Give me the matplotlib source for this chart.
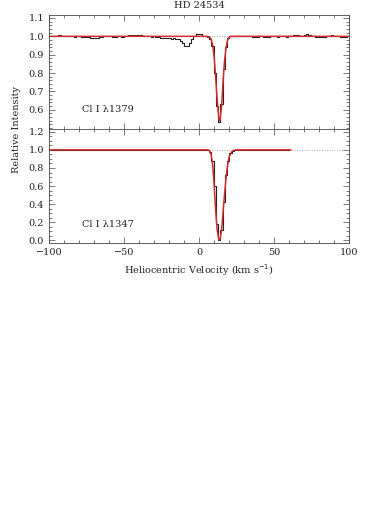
import matplotlib.pyplot as plt
import numpy as np
from matplotlib.ticker import MultipleLocator

# velocity grid of the spectra (km/s)
top_vel = np.arange(133) * 1.5 - 99.0
bot_vel = np.arange(107) * 1.5 - 99.0

# Cl I 1379 observed intensity
top_flux = [
    1.000, 1.002, 1.003, 1.004, 1.005, 1.003, 1.002, 1.004, 1.003, 1.001,
    1.000, 0.999, 1.001, 1.000, 0.998, 0.997, 0.999, 0.996, 0.993, 0.990,
    0.989, 0.993, 0.997, 0.999, 1.002, 1.004, 1.003, 1.001, 0.999, 0.998,
    1.000, 1.001, 0.999, 1.002, 1.004, 1.005, 1.006, 1.008, 1.007, 1.006,
    1.007, 1.004, 1.002, 1.001, 1.000, 0.999, 1.000, 0.998, 0.995, 0.991,
    0.989, 0.991, 0.993, 0.990, 0.988, 0.989, 0.987, 0.983, 0.975, 0.962,
    0.950, 0.945, 0.962, 0.985, 1.002, 1.012, 1.015, 1.010, 1.003, 1.000,
    0.997, 0.988, 0.950, 0.800, 0.620, 0.535, 0.630, 0.820, 0.940, 0.990,
    1.000, 1.002, 1.003, 1.001, 1.002, 1.004, 1.003, 1.001, 1.002, 1.000,
    0.998, 0.997, 0.999, 1.001, 1.000, 0.998, 0.997, 0.999, 1.001, 1.002,
    1.000, 0.999, 1.001, 1.002, 1.000, 0.999, 1.001, 1.003, 1.005, 1.007,
    1.006, 1.004, 1.003, 1.007, 1.010, 1.006, 1.002, 1.000, 0.998, 0.997,
    0.995, 0.996, 0.999, 1.002, 1.004, 1.005, 1.003, 1.001, 1.000, 0.999,
    0.998, 0.999, 1.000,
]

# Cl I 1347 observed intensity
bot_flux = [
    1.000, 1.003, 1.002, 1.004, 1.001, 1.000, 1.002, 1.003, 1.001, 0.999,
    1.000, 1.002, 1.000, 0.998, 0.999, 1.001, 1.000, 0.999, 0.997, 0.998,
    1.000, 1.001, 0.999, 0.998, 1.000, 1.002, 1.001, 1.000, 0.999, 1.001,
    1.002, 1.000, 0.999, 1.000, 1.002, 1.003, 1.002, 1.001, 1.000, 1.001,
    1.002, 1.000, 0.999, 1.000, 1.001, 1.000, 0.998, 0.999, 1.001, 1.002,
    1.000, 0.999, 1.000, 1.002, 1.003, 1.001, 1.000, 0.999, 1.000, 1.001,
    1.000, 0.999, 1.000, 1.001, 1.000, 0.999, 1.000, 1.000, 0.998, 0.997,
    0.995, 0.975, 0.880, 0.600, 0.180, 0.010, 0.120, 0.420, 0.720, 0.880,
    0.960, 0.990, 1.000, 1.002, 1.003, 1.004, 1.003, 1.002, 1.001, 1.000,
    1.000, 0.999, 1.000, 1.001, 1.000, 0.999, 1.000, 1.001, 1.000, 0.999,
    1.000, 1.001, 1.000, 0.999, 1.000, 1.001, 1.000,
]

# fitted profiles
top_model_vel = [-100, 5, 7, 8, 9, 10, 11, 12, 13, 13.5, 14, 15, 16, 17, 18, 19, 20, 21, 100]
top_model = [1.0, 1.0, 0.997, 0.985, 0.955, 0.89, 0.78, 0.66, 0.565, 0.54, 0.545,
             0.62, 0.76, 0.87, 0.94, 0.98, 0.995, 1.0, 1.0]
bot_model_vel = [-100, 6, 7, 8, 9, 10, 11, 12, 13, 13.5, 14, 15, 16, 17, 18, 19, 20, 21, 22, 23, 25, 61]
bot_model = [1.0, 1.0, 0.99, 0.95, 0.84, 0.62, 0.34, 0.12, 0.02, 0.005, 0.015,
             0.12, 0.32, 0.52, 0.70, 0.83, 0.92, 0.96, 0.985, 0.995, 1.0, 1.0]

plt.rcParams['font.family'] = 'DejaVu Serif'
plt.rcParams['font.size'] = 7

fig = plt.figure(figsize=(3.66, 5.12), dpi=100)
ax1 = fig.add_axes([0.134, 0.748, 0.820, 0.223])
ax2 = fig.add_axes([0.134, 0.525, 0.820, 0.223])

red = '#d42a2a'
for ax, v, f, mv, m in [(ax1, top_vel, top_flux, top_model_vel, top_model),
                        (ax2, bot_vel, bot_flux, bot_model_vel, bot_model)]:
    ax.axhline(1.0, color='#999999', ls=(0, (1, 2)), lw=0.6)
    ax.step(v, f, where='mid', color='#222222', lw=0.8)
    ax.plot(mv, m, color=red, lw=1.1)
    ax.set_xlim(-100, 100)
    ax.xaxis.set_major_locator(MultipleLocator(50))
    ax.xaxis.set_minor_locator(MultipleLocator(10))
    ax.tick_params(which='both', direction='in', top=True, right=True,
                   width=0.5, colors='#444444', labelcolor='#222222')
    ax.tick_params(which='major', length=4)
    ax.tick_params(which='minor', length=2)
    for s in ax.spines.values():
        s.set_linewidth(0.6)
        s.set_color('#444444')

ax1.set_ylim(0.495, 1.117)
ax1.yaxis.set_major_locator(MultipleLocator(0.1))
ax1.yaxis.set_minor_locator(MultipleLocator(0.02))
ax1.set_yticks([0.6, 0.7, 0.8, 0.9, 1.0, 1.1])
ax1.tick_params(labelbottom=False)
ax1.text(-78, 0.6, 'Cl I λ1379', ha='left', va='center', color='#222222')

ax2.set_ylim(-0.03, 1.23)
ax2.set_yticks([0.0, 0.2, 0.4, 0.6, 0.8, 1.0, 1.2])
ax2.yaxis.set_minor_locator(MultipleLocator(0.05))
ax2.text(-78, 0.18, 'Cl I λ1347', ha='left', va='center', color='#222222')
ax2.set_xlabel(r'Heliocentric Velocity (km s$^{-1}$)', labelpad=4, color='#222222')

fig.text(0.045, 0.748, 'Relative Intensity', rotation=90, ha='center', va='center',
         color='#222222')
fig.text(0.544, 0.990, 'HD 24534', ha='center', va='center', color='#222222')

fig.savefig('out.png', dpi=100)
